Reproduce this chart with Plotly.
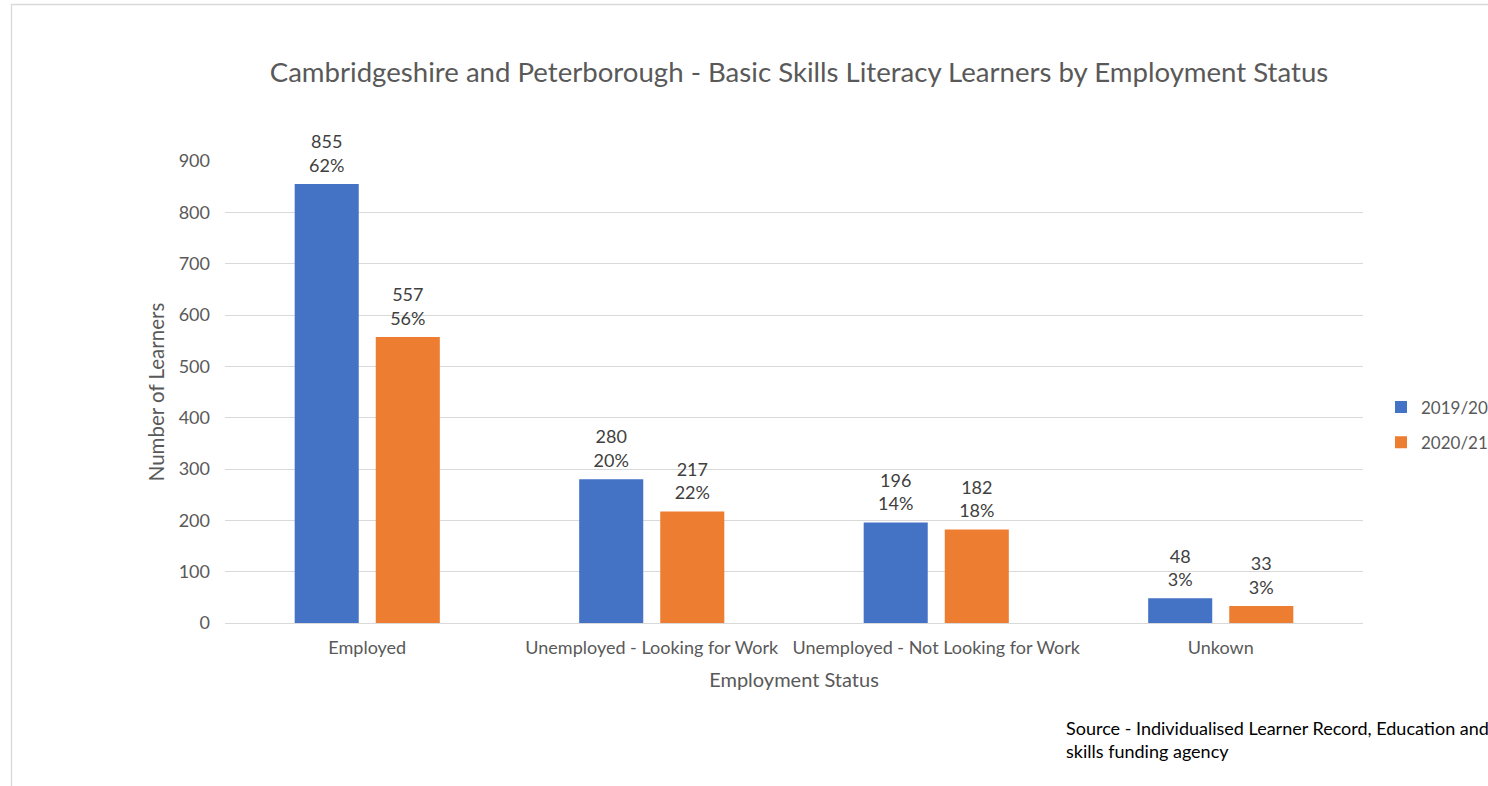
import plotly.graph_objects as go

categories = ["Employed", "Unemployed - Looking for Work", "Unemployed - Not Looking for Work", "Unkown"]
series_names = ["2019/20", "2020/21"]
values_1920 = [855, 280, 196, 48]
values_2021 = [557, 217, 182, 33]
pct_1920 = ["62%", "20%", "14%", "3%"]
pct_2021 = ["56%", "22%", "18%", "3%"]
y_ticks = [0, 100, 200, 300, 400, 500, 600, 700, 800, 900]

FONT = "Lato"
W, H = 1488, 786
L, T = 225, 161
R = W - 1363
B = H - 623
pw, ph = W - L - R, H - T - B
BARGAP = 0.43

def px(x):
    return (x - L) / pw

def py(y):
    return (H - B - y) / ph

def labels(vals, pcts):
    return [f"{v}<br>{p}" for v, p in zip(vals, pcts)]

fig = go.Figure()
series = [
    (series_names[0], values_1920, pct_1920, "#4472C4"),
    (series_names[1], values_2021, pct_2021, "#ED7D31"),
]
for name, vals, pcts, color in series:
    fig.add_trace(go.Bar(
        x=categories, y=vals, name=name, legendgroup=name,
        marker=dict(color=color, line=dict(width=0)),
        hoverinfo="skip",
    ))
for name, vals, pcts, color in series:
    fig.add_trace(go.Scatter(
        x=categories, y=vals, name=name, legendgroup=name, showlegend=False,
        mode="markers+text", text=labels(vals, pcts), textposition="top center",
        marker=dict(size=11, color="rgba(0,0,0,0)", line=dict(width=0)),
        textfont=dict(family=FONT, size=18, color="#404040"),
        cliponaxis=False, hoverinfo="skip",
    ))

fig.update_layout(
    width=W, height=H,
    margin=dict(l=L, r=R, t=T, b=B, autoexpand=False),
    paper_bgcolor="white", plot_bgcolor="white",
    barmode="group", bargap=BARGAP, bargroupgap=0.21,
    scattermode="group", scattergap=BARGAP,
    font=dict(family=FONT, color="#595959"),
    title=dict(text="Cambridgeshire and Peterborough - Basic Skills Literacy Learners by Employment Status",
               x=px(799), xref="paper", xanchor="center",
               y=1 - 72 / H, yref="container", yanchor="middle",
               font=dict(family=FONT, size=27.6, color="#595959")),
    xaxis=dict(showgrid=False, showline=False, ticks="", ticklabelstandoff=12,
               tickfont=dict(family=FONT, size=18, color="#595959"),
               title=dict(text="Employment Status", font=dict(family=FONT, size=20, color="#595959"), standoff=15)),
    yaxis=dict(range=[0, 900], tickvals=y_ticks, showgrid=True, gridcolor="#D9D9D9", gridwidth=1,
               zeroline=True, zerolinecolor="#D9D9D9", zerolinewidth=1, showline=False,
               ticks="", ticklabelstandoff=14,
               tickfont=dict(family=FONT, size=18, color="#595959"),
               title=dict(text="Number of Learners", font=dict(family=FONT, size=20.5, color="#595959"), standoff=8)),
    legend=dict(x=px(1381), xanchor="left", y=py(425), yanchor="middle",
                font=dict(family=FONT, size=17, color="#595959"), tracegroupgap=10,
                itemwidth=30, bgcolor="rgba(0,0,0,0)"),
    showlegend=True,
)

fig.add_annotation(
    text="Source - Individualised Learner Record, Education and<br>skills funding agency",
    xref="paper", yref="paper", x=px(1064), y=py(715),
    xanchor="left", yanchor="top", align="left", showarrow=False,
    font=dict(family=FONT, size=18, color="#000000"),
)

fig.add_shape(type="rect", xref="paper", yref="paper",
              x0=px(11.5), x1=px(1700), y0=py(1000), y1=py(4.5),
              line=dict(color="#D9D9D9", width=1.3), fillcolor="rgba(0,0,0,0)", layer="below")

fig.write_html("out.html", config={"displayModeBar": False},
               post_script="document.body.style.margin='0';document.body.style.overflow='hidden';")
